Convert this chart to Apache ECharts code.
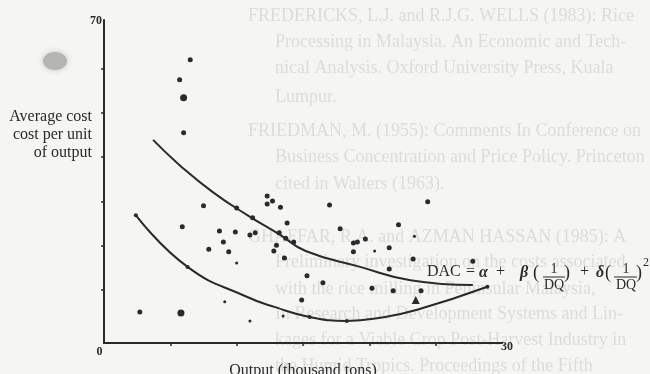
<!DOCTYPE html>
<html><head><meta charset="utf-8">
<script src="https://cdn.jsdelivr.net/npm/echarts@6/dist/echarts.min.js"></script>
<style>html,body{margin:0;padding:0;background:#f5f5f3}#c{width:650px;height:374px}</style>
</head><body><div id="c"></div>
<script>
// Observations (x: output, thousand tons; y: average cost per unit)
const points = [[6.5,62.0],[5.7,57.5],[6.0,45.5],[7.5,29.0],[10.0,28.5],[11.2,26.3],[5.9,24.3],
  [12.3,31.2],[12.7,30.1],[12.3,29.4],[13.3,28.7],[8.7,23.3],[9.9,23.1],[11.0,22.4],[11.4,22.9],
  [9.0,20.8],[7.9,19.2],[9.4,18.6],[12.8,18.8],[13.0,20.1],[13.2,22.9],[13.8,25.1],[13.7,21.7],
  [14.3,20.8],[13.6,17.2],[17.0,29.2],[17.8,23.8],[24.4,29.9],[22.2,24.7],[18.8,20.6],[19.1,20.8],
  [19.7,21.5],[18.8,18.6],[21.5,19.5],[23.3,17.0],[21.5,14.7],[15.3,13.2],[16.5,11.6],[20.2,10.4],
  [21.8,9.8],[23.9,9.8],[14.9,7.7],[27.8,16.5],[2.7,5.0]];
const smallPoints = [[10.0,16.1],[23.4,22.1],[20.4,18.8],[9.1,7.3],[11.0,3.0],[13.5,4.1]];
const bigPoints = [[5.8,4.8],[6.0,53.4]];
const trianglePoints = [[23.5,7.7]];
const curveMarkers = [[2.4,26.9],[6.3,15.2],[15.5,3.9],[18.3,3.0],[28.9,10.7]];
// Fitted curves
const upperCurve = [[3.7,43.9],[5.7,38.2],[8.2,32.1],[10.8,26.9],[13.3,22.4],[15.2,18.8],[19.3,15.2],[23.1,12.2],[27.8,11.1]];
const lowerCurve = [[2.4,26.9],[6.3,15.2],[10.8,8.4],[12.9,6.1],[15.5,3.9],[18.3,3.0],[20.8,3.7],[23.6,5.5],[28.9,10.7]];
// Axis ticks / labels
const xTickValues = [5,10,15,20,25];
const xLabelValues = [0,30];
const yTickValues = [10,20,30,40,50,60];
const yLabelValues = [70];
const xTitle = 'Output (thousand tons)';
const yTitle = ['Average cost','cost per unit','of output'];
// faint show-through text from the reverse page
const bleedLines = [
  [248,16,'FREDERICKS, L.J. and R.J.G. WELLS (1983): Rice'],
  [275,42,'Processing in Malaysia. An Economic and Tech-'],
  [275,68,'nical Analysis. Oxford University Press, Kuala'],
  [275,97,'Lumpur.'],
  [248,131,'FRIEDMAN, M. (1955): Comments In Conference on'],
  [275,157,'Business Concentration and Price Policy. Princeton'],
  [275,184,'cited in Walters (1963).'],
  [248,237,'GHAFFAR, R.A. and AZMAN HASSAN (1985): A'],
  [275,262,'Preliminary investigation on the costs associated'],
  [275,289,'with the rice milling in Peninsular Malaysia,'],
  [275,314,'In Research and Development Systems and Lin-'],
  [275,340,'kages for a Viable Crop Post-Harvest Industry in'],
  [275,366,'the Humid Tropics. Proceedings of the Fifth']
];

const ink = '#2a2a2a';
const serif = '"Liberation Serif","DejaVu Serif",serif';
const chart = echarts.init(document.getElementById('c'));

const graphic = [];
bleedLines.forEach(l => graphic.push({type:'text', x:l[0], y:l[1], z:-10, silent:true,
  style:{text:l[2], font:'18px '+serif, fill:'#dcdcda', verticalAlign:'middle', align:'left', letterSpacing:0.5}}));
graphic.push({type:'ellipse', z:-5, shape:{cx:55,cy:61,rx:12,ry:9}, style:{fill:'#b4b4b2', shadowBlur:6, shadowColor:'#c4c4c2'}});
graphic.push({type:'text', x:92, y:135, style:{text:yTitle.join('\n'), font:'16px '+serif, lineHeight:18, fill:ink, align:'right', verticalAlign:'middle'}});
// equation
const eq = (t,x,y,f,al) => graphic.push({type:'text', x:x, y:y, style:{text:t, font:f, fill:ink, align:al||'left', verticalAlign:'middle'}});
const f16 = '16px '+serif, fbi = 'bold italic 16px '+serif, f14 = '14px '+serif, fp = '18px '+serif;
eq('DAC',427,272,f16); eq('=',466,272,f16); eq('α',479,273,fbi); eq('+',496,272,f16);
eq('β',520,273,fbi); eq('(',533,273,fp); eq('1',554,269,f14,'center'); eq('DQ',554,285,f14,'center'); eq(')',564,273,fp);
eq('+',580,272,f16); eq('δ',596,273,fbi); eq('(',605,273,fp); eq('1',626,269,f14,'center'); eq('DQ',626,285,f14,'center'); eq(')',636,273,fp);
eq('2',643,263,'12px '+serif);
graphic.push({type:'line', shape:{x1:543,y1:277,x2:565,y2:277}, style:{stroke:ink, lineWidth:1}});
graphic.push({type:'line', shape:{x1:614,y1:277,x2:637,y2:277}, style:{stroke:ink, lineWidth:1}});

const dot = (data,size,sym) => ({type:'scatter', data:data, symbol:sym||'circle', symbolSize:size,
  itemStyle:{color:ink, opacity:1}, silent:true, z:5});

chart.setOption({
  backgroundColor:'#f5f5f3',
  animation:false,
  grid:{left:104, right:148, top:20, bottom:31, outerBoundsMode:'none', containLabel:false},
  xAxis:{type:'value', min:0, max:30,
    name:xTitle, nameLocation:'middle', nameGap:13,
    nameTextStyle:{fontFamily:serif, fontSize:16, color:ink, letterSpacing:1.2},
    axisLine:{onZero:false, lineStyle:{color:ink, width:2}},
    axisTick:{customValues:xTickValues, length:3, lineStyle:{color:ink, width:1.5}},
    splitLine:{show:false},
    axisLabel:{customValues:xLabelValues, margin:-2, color:ink,
      formatter: v => v === 0 ? '{z|0}' : '{t|30}',
      rich:{z:{fontFamily:serif, fontWeight:'bold', fontSize:12, color:ink, padding:[5,9,0,0]},
            t:{fontFamily:serif, fontWeight:'bold', fontSize:12, color:ink, padding:[0,0,0,10]}}}
  },
  yAxis:{type:'value', min:-2, max:71,
    axisLine:{onZero:false, lineStyle:{color:ink, width:2}},
    axisTick:{customValues:yTickValues, length:3, lineStyle:{color:ink, width:1.5}},
    splitLine:{show:false},
    axisLabel:{customValues:yLabelValues, margin:2, verticalAlign:'bottom', lineHeight:8, color:ink,
      fontFamily:serif, fontWeight:'bold', fontSize:12}
  },
  graphic:graphic,
  series:[
    {type:'line', data:upperCurve, smooth:0.5, showSymbol:false, lineStyle:{color:ink, width:2}, silent:true},
    {type:'line', data:lowerCurve, smooth:0.5, showSymbol:false, lineStyle:{color:ink, width:2}, silent:true},
    dot(points,5), dot(smallPoints,3), dot(bigPoints,7), dot(trianglePoints,8,'triangle'), dot(curveMarkers,4)
  ]
});
</script></body></html>
